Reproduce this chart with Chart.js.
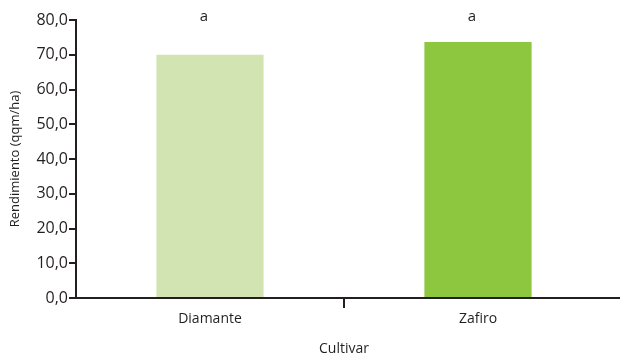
<!DOCTYPE html>
<html>
<head>
<meta charset="utf-8">
<script src="https://cdn.jsdelivr.net/npm/chart.js@4/dist/chart.umd.min.js"></script>
<style>
  html, body { margin: 0; padding: 0; background: #fff; }
  #wrap { width: 620px; height: 357px; position: relative; }
</style>
</head>
<body>
<div id="wrap"><canvas id="c" width="620" height="357"></canvas></div>
<script>
// Yield by cultivar
const cultivars = ['Diamante', 'Zafiro'];
const yieldValues = [70.0, 73.7];
const significance = ['a', 'a'];
const barColors = ['#d2e4b1', '#8dc63f'];

const ink = '#231f20';
const fontFamily = "'Open Sans', 'DejaVu Sans', sans-serif";

// letters above the bars plus the x axis line running to the canvas edge
const extras = {
  id: 'extras',
  afterDraw(chart) {
    const { ctx, chartArea } = chart;
    const meta = chart.getDatasetMeta(0);
    ctx.save();
    ctx.fillStyle = ink;
    ctx.font = `15px ${fontFamily}`;
    ctx.textAlign = 'center';
    ctx.textBaseline = 'middle';
    meta.data.forEach((bar, i) => {
      ctx.fillText(significance[i], bar.x - 6, 17);
    });
    const y = Math.round(chartArea.bottom);
    ctx.fillRect(Math.round(chartArea.left) - 1, y - 1, chart.width, 2);
    ctx.restore();
  }
};

new Chart(document.getElementById('c'), {
  type: 'bar',
  data: {
    labels: cultivars,
    datasets: [{
      data: yieldValues,
      backgroundColor: barColors,
      borderWidth: 0,
      categoryPercentage: 1,
      barPercentage: 0.4
    }]
  },
  options: {
    responsive: false,
    animation: false,
    layout: { padding: { top: 20, right: 8, left: 0, bottom: 0 } },
    plugins: { legend: { display: false }, tooltip: { enabled: false } },
    scales: {
      y: {
        min: 0, max: 80,
        afterFit(scale) { scale.width = 76; },
        border: { color: ink, width: 2 },
        grid: { drawOnChartArea: false, drawTicks: true, tickLength: 7, color: ink, lineWidth: 2 },
        ticks: {
          stepSize: 10, padding: 1, color: ink,
          font: { family: fontFamily, size: 16 },
          callback: v => v.toFixed(1).replace('.', ',')
        },
        title: {
          display: true, text: 'Rendimiento (qqm/ha)', color: ink,
          font: { family: fontFamily, size: 13 }, padding: { top: 7, bottom: 0 }
        }
      },
      x: {
        afterFit(scale) { scale.height = 59; },
        border: { display: false },
        grid: {
          drawOnChartArea: false, drawTicks: true, tickLength: 10, lineWidth: 2,
          color: ctx => (ctx.index === 1 ? ink : 'rgba(0,0,0,0)')
        },
        ticks: { color: ink, padding: 3, font: { family: fontFamily, size: 14 } },
        title: {
          display: true, text: 'Cultivar', color: ink,
          font: { family: fontFamily, size: 14 }, padding: { top: 0, bottom: 0 }
        }
      }
    }
  },
  plugins: [extras]
});
</script>
</body>
</html>
